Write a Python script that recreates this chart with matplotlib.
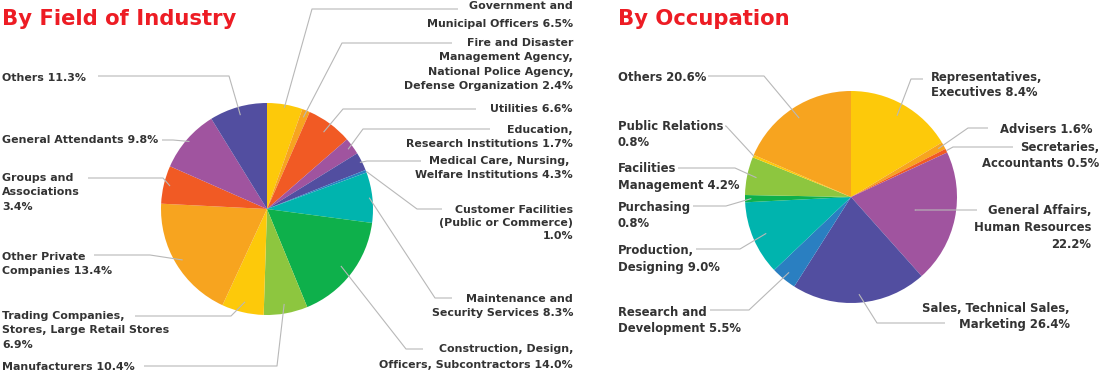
import matplotlib
matplotlib.use("Agg")
import matplotlib.pyplot as plt
import numpy as np

# ---------------- data ----------------
industry_labels = [
    "Government and\nMunicipal Officers 6.5%",
    "Fire and Disaster\nManagement Agency,\nNational Police Agency,\nDefense Organization 2.4%",
    "Utilities 6.6%",
    "Education,\nResearch Institutions 1.7%",
    "Medical Care, Nursing, \nWelfare Institutions 4.3%",
    "Customer Facilities\n(Public or Commerce)\n1.0%",
    "Maintenance and\nSecurity Services 8.3%",
    "Construction, Design,\nOfficers, Subcontractors 14.0%",
    "Manufacturers 10.4%",
    "Trading Companies,\nStores, Large Retail Stores\n6.9%",
    "Other Private\nCompanies 13.4%",
    "Groups and\nAssociations\n3.4%",
    "General Attendants 9.8%",
    "Others 11.3%",
]
# slice sizes as drawn in the picture (share of circle, %)
industry_sizes = [5.4, 1.2, 7.0, 2.6, 2.8, 0.4, 7.7, 16.7, 6.7, 6.4, 18.9, 5.8, 9.6, 8.8]
industry_colors = ["#FDC90A", "#F7A41F", "#F15A24", "#A0549F", "#524EA0", "#2A7FC1",
                   "#00B4AE", "#0EB04B", "#8DC63F", "#FDC90A", "#F7A41F", "#F15A24",
                   "#A0549F", "#524EA0"]

occupation_labels = [
    "Representatives,\nExecutives 8.4%",
    "Advisers 1.6%",
    "Secretaries,\nAccountants 0.5%",
    "General Affairs,\nHuman Resources\n22.2%",
    "Sales, Technical Sales,\nMarketing 26.4%",
    "Research and\nDevelopment 5.5%",
    "Production,\nDesigning 9.0%",
    "Purchasing\n0.8%",
    "Facilities\nManagement 4.2%",
    "Public Relations\n0.8%",
    "Others 20.6%",
]
occupation_sizes = [16.4, 1.1, 0.6, 20.3, 20.6, 3.9, 11.3, 1.1, 5.8, 0.4, 18.5]
occupation_colors = ["#FDC90A", "#F7A41F", "#F15A24", "#A0549F", "#524EA0", "#2A7FC1",
                     "#00B4AE", "#0EB04B", "#8DC63F", "#FDC90A", "#F7A41F"]

# ---------------- layout (image pixel coordinates) ----------------
W, H = 1100, 371
# per label: (start radius frac, elbow (x,y), line end x, text x, text top y, ha, linespacing)
industry_layout = [
    (0.97, (312, 9), 458, 573, 1, "right", 1.95),
    (0.93, (342, 43), 452, 573, 38, "right", 1.55),
    (0.90, (343, 109), 476, 573, 104, "right", 1.55),
    (0.95, (363, 129), 490, 573, 125, "right", 1.55),
    (0.98, (367, 161), 421, 573, 156, "right", 1.55),
    (1.00, (417, 209), 442, 573, 205, "right", 1.4),
    (0.97, (435, 298), 452, 573, 294, "right", 1.55),
    (0.88, (406, 349), 423, 573, 344, "right", 1.78),
    (0.91, (277, 366), 144, 2, 362, "left", 1.55),
    (0.90, (231, 316), 135, 2, 311, "left", 1.55),
    (0.93, (150, 255), 94, 2, 252, "left", 1.55),
    (0.94, (163, 178), 88, 2, 173, "left", 1.55),
    (0.97, (173, 140), 162, 2, 135, "left", 1.55),
    (0.92, (229, 76), 98, 2, 73, "left", 1.55),
]
occupation_layout = [
    (0.88, (911, 79), 923, 931, 71, "left", 1.2),
    (0.94, (968, 128), 988, 1093, 123, "right", 1.34),
    (1.00, (953, 147), 1013, 1099, 141, "right", 1.34),
    (0.62, (915, 210), 977, 1091, 204, "right", 1.42),
    (0.92, (877, 323), 945, 1070, 302, "right", 1.34),
    (0.92, (749, 310), 710, 618, 306, "left", 1.34),
    (0.87, (740, 249), 696, 618, 244, "left", 1.38),
    (0.94, (726, 206), 693, 618, 201, "left", 1.3),
    (0.91, (735, 168), 678, 618, 162, "left", 1.4),
    (0.99, (726, 126), 725, 618, 120, "left", 1.32),
    (0.89, (764, 76), 708, 618, 71, "left", 1.34),
]

pies = [
    dict(title="By Field of Industry", tx=2, center=(267, 209), R=106, fs=7.9,
         sizes=industry_sizes, colors=industry_colors, labels=industry_labels,
         layout=industry_layout),
    dict(title="By Occupation", tx=618, center=(851, 197), R=106, fs=8.4,
         sizes=occupation_sizes, colors=occupation_colors, labels=occupation_labels,
         layout=occupation_layout),
]

FONT = "DejaVu Sans"
TXT = "#333333"
LINE = "#b8b8b8"

fig = plt.figure(figsize=(W / 100, H / 100), dpi=100)
ax = fig.add_axes([0, 0, 1, 1])


def Y(y):
    return H - y


for p in pies:
    cx, cy = p["center"]
    ax.pie(p["sizes"], colors=p["colors"], startangle=90, counterclock=False,
           center=(cx, Y(cy)), radius=p["R"], wedgeprops=dict(linewidth=0))
    ax.text(p["tx"], Y(19), p["title"], color="#ED1C24", fontsize=15.2,
            fontweight="bold", family=FONT, ha="left", va="center")
    sizes = np.array(p["sizes"], dtype=float)
    cum = np.cumsum(sizes) / sizes.sum() * 360.0
    starts = np.concatenate([[0], cum[:-1]])
    mids = (starts + cum) / 2.0
    for lab, mid, lay in zip(p["labels"], mids, p["layout"]):
        frac, (ex, ey), endx, tx, ty, ha, ls = lay
        th = np.deg2rad(mid)
        sx = cx + frac * p["R"] * np.sin(th)
        sy = cy - frac * p["R"] * np.cos(th)
        ax.plot([sx, ex, endx], [Y(sy), Y(ey), Y(ey)], color=LINE, lw=0.8,
                solid_capstyle="butt", zorder=5)
        ax.text(tx, Y(ty), lab, color=TXT, fontsize=p["fs"], fontweight="bold",
                family=FONT, ha=ha, va="top", multialignment=ha, linespacing=ls)

ax.set_xlim(0, W)
ax.set_ylim(0, H)
ax.set_aspect("auto")
ax.axis("off")
fig.savefig("out.png", dpi=100, facecolor="white")
